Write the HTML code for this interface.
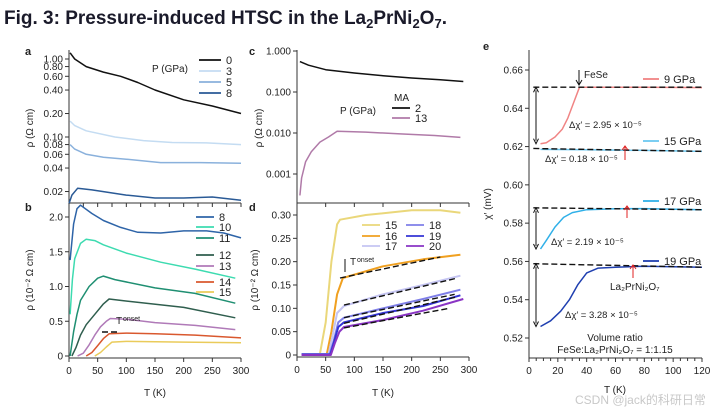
<!DOCTYPE html>
<html><head><meta charset="utf-8">
<style>
body{margin:0;background:#fff;width:728px;height:415px;overflow:hidden;font-family:"Liberation Sans",sans-serif}
svg text{font-family:"Liberation Sans",sans-serif;fill:#222}
</style></head><body>
<svg id="fig" width="728" height="415" viewBox="0 0 728 415" xmlns="http://www.w3.org/2000/svg">
<text x="4" y="24" style="font-size:19px;font-weight:bold;fill:#1a1a2a">Fig. 3: Pressure-induced HTSC in the La<tspan font-size="13" dy="4">2</tspan><tspan dy="-4">PrNi</tspan><tspan font-size="13" dy="4">2</tspan><tspan dy="-4">O</tspan><tspan font-size="13" dy="4">7</tspan><tspan dy="-4">.</tspan></text>
</svg>
<script>
// ---- Data ----
const aT0=[2,10,30,60,90,120,150,200,250,300], aV0=[1.2,1.0,0.8,0.68,0.6,0.5,0.4,0.3,0.25,0.2];
const aT3=[2,10,30,80,130,180,240,300], aV3=[0.16,0.14,0.12,0.1,0.09,0.085,0.084,0.08];
const aT5=[2,10,30,60,100,160,230,300], aV5=[0.08,0.07,0.06,0.055,0.052,0.047,0.047,0.046];
const aT8=[0,5,15,40,100,150,200,250,300], aV8=[0.014,0.018,0.022,0.021,0.018,0.0165,0.0165,0.017,0.0155];
const bT8=[2,8,14,20,40,60,90,120,160,200,240,270,300], bV8=[1.38,1.9,2.12,2.17,2.05,1.95,1.85,1.78,1.77,1.8,1.8,1.77,1.7];
const bT10=[2,6,10,20,30,45,60,100,160,220,290], bV10=[0.6,1.1,1.4,1.62,1.68,1.66,1.6,1.48,1.35,1.25,1.12];
const bT11=[2,8,14,20,35,50,60,80,150,220,290], bV11=[0,0.35,0.6,0.8,1.0,1.12,1.15,1.1,0.98,0.9,0.76];
const bT12=[5,12,20,30,45,60,70,90,200,290], bV12=[0,0.12,0.3,0.45,0.6,0.75,0.82,0.8,0.7,0.55];
const bT13=[15,25,35,45,55,65,72,100,150,220,290], bV13=[0,0.04,0.16,0.3,0.42,0.5,0.54,0.53,0.48,0.44,0.38];
const bT14=[30,40,50,60,70,100,150,220,300], bV14=[0,0.05,0.15,0.25,0.32,0.33,0.32,0.3,0.26];
const bT15=[45,55,65,75,100,200,300], bV15=[0,0.05,0.13,0.2,0.21,0.2,0.19];
const cT2=[5,20,50,100,150,200,250,290], cV2=[0.55,0.45,0.35,0.29,0.25,0.22,0.2,0.18];
const cT13=[5,8,15,25,40,55,70,120,180,240,285], cV13=[0.0003,0.0008,0.002,0.0035,0.006,0.008,0.011,0.0105,0.0095,0.0087,0.0078];
const dT15=[8,40,50,60,70,75,120,200,250,285], dV15=[0.002,0.002,0.07,0.2,0.28,0.29,0.3,0.31,0.31,0.305];
const dT16=[8,52,60,70,80,150,220,285], dV16=[0.002,0.002,0.05,0.13,0.165,0.19,0.205,0.215];
const dT17=[8,55,62,70,82,150,220,285], dV17=[0.002,0.002,0.04,0.09,0.105,0.13,0.15,0.17];
const dT18=[8,57,64,72,82,150,220,285], dV18=[0.002,0.002,0.03,0.07,0.08,0.1,0.12,0.14];
const dT19=[8,58,65,72,82,150,220,285], dV19=[0.001,0.001,0.03,0.06,0.07,0.09,0.105,0.128];
const dT20=[8,59,66,74,82,150,220,290], dV20=[0,0,0.025,0.05,0.06,0.075,0.095,0.12];
const eT9=[8,12,18,23,27,31,35,40,60,80,120], eV9=[0.6215,0.622,0.625,0.629,0.635,0.643,0.651,0.651,0.651,0.651,0.6508];
const eT15=[8,40,80,120], eV15=[0.6185,0.6183,0.618,0.6175];
const eT17=[8,12,18,24,30,40,60,80,120], eV17=[0.5665,0.571,0.578,0.583,0.5855,0.587,0.5875,0.5876,0.587];
const eT19=[8,15,22,28,34,40,48,60,80,120], eV19=[0.526,0.529,0.534,0.54,0.548,0.554,0.5565,0.557,0.5575,0.557];
const aTicks=[1,0.8,0.6,0.4,0.2,0.1,0.08,0.06,0.04,0.02], aTickLabels=["1.00","0.80","0.60","0.40","0.20","0.10","0.08","0.06","0.04","0.02"];
const bTicks=[0,0.5,1.0,1.5,2.0], bTickLabels=["0","0.5","1.0","1.5","2.0"];
const cTicks=[1,0.1,0.01,0.001], cTickLabels=["1.000","0.100","0.010","0.001"];
const dTicks=[0,0.05,0.1,0.15,0.2,0.25,0.3], dTickLabels=["0","0.05","0.10","0.15","0.20","0.25","0.30"];
const eTicks=[0.52,0.54,0.56,0.58,0.6,0.62,0.64,0.66], eTickLabels=["0.52","0.54","0.56","0.58","0.60","0.62","0.64","0.66"];
const tTicks=[0,50,100,150,200,250,300], eXTicks=[0,20,40,60,80,100,120];

const NS="http://www.w3.org/2000/svg", svg=document.getElementById('fig');
function mk(tag,attrs,parent){const e=document.createElementNS(NS,tag);for(const k in attrs)e.setAttribute(k,attrs[k]);(parent||svg).appendChild(e);return e;}
function txt(x,y,s,size,anchor,name){const t=mk('text',{x:x,y:y,'font-size':size||10,'text-anchor':anchor||'start'});t.textContent=s;

return t;}
// scales
const xT=(t)=>69+t*(241-69)/300, xT2=(t)=>297+t*(469-297)/300, xE=(t)=>529+t*(702-529)/120;
const yA=(v)=>137-78*Math.log10(v/0.1), yB=(v)=>356-69.5*v, yC=(v)=>51-41*Math.log10(v), yD=(v)=>355-v*(140/0.3), yE=(v)=>70+(0.66-v)*(268/0.14);
function line(xs,ys,fx,fy,color,name,w){const d=xs.map((t,i)=>(i?'L':'M')+fx(t).toFixed(1)+','+fy(ys[i]).toFixed(1)).join('');
const p=mk('path',{d:d,fill:'none',stroke:color,'stroke-width':w||1.5,'stroke-linejoin':'round'});

return p;}
function dash(x1,y1,x2,y2,name){const l=mk('line',{x1:x1,y1:y1,x2:x2,y2:y2,stroke:'#111','stroke-width':1.4,'stroke-dasharray':'6,3'});

}
function yaxis(x,y1,y2,ticks,labels,fy,name){const a=mk('line',{x1:x,y1:y1,x2:x,y2:y2,stroke:'#333','stroke-width':1});


ticks.forEach((v,i)=>{const y=fy(v);mk('line',{x1:x-4,y1:y,x2:x,y2:y,stroke:'#333'});txt(x-6,y+3.5,labels[i],10,'end','y-tick-label');});}
function xaxis(y,x1,x2,ticks,fx,labels,name){const a=mk('line',{x1:x1,y1:y,x2:x2,y2:y,stroke:'#333'});


ticks.forEach(t=>{const x=fx(t);mk('line',{x1:x,y1:y,x2:x,y2:y+4,stroke:'#333'});if(labels)txt(x,y+16,String(t),10,'middle','x-tick-label');});}
function legend(x,y,color,label,len){const l=mk('line',{x1:x,y1:y,x2:x+(len||22),y2:y,stroke:color,'stroke-width':1.8});


txt(x+(len||22)+5,y+4,label,11,'start','legend-label');}

// Panel a
txt(25,55,'a',11,'start','panel-a-label').setAttribute('font-weight','bold');
yaxis(69,50,203,aTicks,aTickLabels,yA,'panel-a-y-axis');
xaxis(203,69,241,[0,25,50,75,100,125,150,175,200,225,250,275,300],xT,false,'panel-a-x-axis');
line(aT0,aV0,xT,yA,'#111','series-a-0GPa');line(aT3,aV3,xT,yA,'#c4dcf2','series-a-3GPa');
line(aT5,aV5,xT,yA,'#8ab1dc','series-a-5GPa');line(aT8,aV8,xT,yA,'#2a5a96','series-a-8GPa');
const ya=txt(33,128,'ρ (Ω cm)',10,'middle','panel-a-y-title');ya.setAttribute('transform','rotate(-90 33 128)');
txt(152,72,'P (GPa)',10,'start','panel-a-legend-title').setAttribute('font-style','normal');
legend(199,60,'#111','0');legend(199,71,'#c4dcf2','3');legend(199,82,'#8ab1dc','5');legend(199,93,'#2a5a96','8');

// Panel b
txt(25,211,'b',11,'start','panel-b-label').setAttribute('font-weight','bold');
yaxis(69,203,358,bTicks,bTickLabels,yB,'panel-b-y-axis');
xaxis(358,69,241,tTicks,xT,true,'panel-b-x-axis');
const bc=['#2e64a8','#3ddbb0','#1f8f72','#2f5e4e','#b07ab8','#d9582e','#eacb5a'];
line(bT8,bV8,xT,yB,bc[0],'series-b-8GPa');line(bT10,bV10,xT,yB,bc[1],'series-b-10GPa');line(bT11,bV11,xT,yB,bc[2],'series-b-11GPa');
line(bT12,bV12,xT,yB,bc[3],'series-b-12GPa');line(bT13,bV13,xT,yB,bc[4],'series-b-13GPa');line(bT14,bV14,xT,yB,bc[5],'series-b-14GPa');line(bT15,bV15,xT,yB,bc[6],'series-b-15GPa');
const yb=txt(33,280,'ρ (10⁻² Ω cm)',10,'middle','panel-b-y-title');yb.setAttribute('transform','rotate(-90 33 280)');
txt(155,396,'T (K)',10,'middle','panel-b-x-title');
[['8',217],['10',227],['11',238],['12',255],['13',266],['14',282],['15',292]].forEach((e,i)=>legend(196,e[1],bc[i],e[0],18));
dash(102,332,120,332,'panel-b-tc-dash');txt(116,324,'T',10,'start','tc-label');txt(123,321,'onset',7,'start','tc-sup');

// Panel c
txt(249,55,'c',11,'start','panel-c-label').setAttribute('font-weight','bold');
yaxis(297,50,203,cTicks,cTickLabels,yC,'panel-c-y-axis');
xaxis(203,297,469,tTicks,xT2,false,'panel-c-x-axis');
line(cT2,cV2,xT2,yC,'#111','series-c-2GPa');line(cT13,cV13,xT2,yC,'#b07aa8','series-c-13GPa');
const yc=txt(262,128,'ρ (Ω cm)',10,'middle','panel-c-y-title');yc.setAttribute('transform','rotate(-90 262 128)');
txt(340,114,'P (GPa)',10,'start','panel-c-legend-title');txt(394,101,'MA',10,'start','panel-c-legend-header');
legend(392,108,'#111','2',18);legend(392,118,'#b07aa8','13',18);

// Panel d
txt(249,211,'d',11,'start','panel-d-label').setAttribute('font-weight','bold');
yaxis(297,203,357,dTicks,dTickLabels,yD,'panel-d-y-axis');
xaxis(357,297,469,tTicks,xT2,true,'panel-d-x-axis');
const dc=['#ead77a','#f0a020','#c4c4f2','#7f7fe8','#3434d4','#8a34c4'];
line(dT15,dV15,xT2,yD,dc[0],'series-d-15GPa',2);line(dT16,dV16,xT2,yD,dc[1],'series-d-16GPa',2);line(dT17,dV17,xT2,yD,dc[2],'series-d-17GPa',2);
line(dT18,dV18,xT2,yD,dc[3],'series-d-18GPa',2);line(dT19,dV19,xT2,yD,dc[4],'series-d-19GPa',2);line(dT20,dV20,xT2,yD,dc[5],'series-d-20GPa',2);
dash(xT2(75),yD(0.165),xT2(250),yD(0.21),'fit-16');dash(xT2(82),yD(0.107),xT2(280),yD(0.165),'fit-17');
dash(xT2(82),yD(0.08),xT2(275),yD(0.13),'fit-18');dash(xT2(82),yD(0.068),xT2(280),yD(0.125),'fit-19');dash(xT2(82),yD(0.058),xT2(265),yD(0.1),'fit-20');
const yd=txt(258,280,'ρ (10⁻² Ω cm)',10,'middle','panel-d-y-title');yd.setAttribute('transform','rotate(-90 258 280)');
txt(383,396,'T (K)',10,'middle','panel-d-x-title');
[['15',dc[0],362,225],['16',dc[1],362,236],['17',dc[2],362,246],['18',dc[3],406,225],['19',dc[4],406,236],['20',dc[5],406,246]].forEach(e=>legend(e[2],e[3],e[1],e[0],18));
txt(350,265,'T',10,'start','tc-label-d');txt(357,262,'onset',7,'start','tc-sup-d');
mk('line',{x1:345,y1:259,x2:345,y2:272,stroke:'#111'});

// Panel e
txt(483,50,'e',11,'start','panel-e-label').setAttribute('font-weight','bold');
yaxis(529,50,358,eTicks,eTickLabels,yE,'panel-e-y-axis');
xaxis(358,529,702,eXTicks,xE,true,'panel-e-x-axis');
[5,10,15,25,30,35,45,50,55,65,70,75,85,90,95,105,110,115].forEach(t=>mk('line',{x1:xE(t),y1:358,x2:xE(t),y2:361,stroke:'#333'}));
const ec=['#f08484','#6cc8f0','#30b0e8','#1f3fb0'];
line(eT9,eV9,xE,yE,ec[0],'series-e-9GPa');line(eT15,eV15,xE,yE,ec[1],'series-e-15GPa');line(eT17,eV17,xE,yE,ec[2],'series-e-17GPa');line(eT19,eV19,xE,yE,ec[3],'series-e-19GPa');
dash(xE(3),yE(0.651),xE(120),yE(0.651),'base-9');dash(xE(3),yE(0.619),xE(120),yE(0.6175),'base-15');
dash(xE(3),yE(0.588),xE(120),yE(0.587),'base-17');dash(xE(3),yE(0.5588),xE(120),yE(0.557),'base-19');
legend(643,79,ec[0],'9 GPa',16);legend(643,141,ec[1],'15 GPa',16);legend(643,201,ec[2],'17 GPa',16);legend(643,261,ec[3],'19 GPa',16);
[[0.651,0.6215],[0.588,0.5665],[0.5588,0.526]].forEach(p=>{const x=536;mk('line',{x1:x,y1:yE(p[0])+3,x2:x,y2:yE(p[1])-3,stroke:'#111'});
mk('path',{d:`M${x-2.5},${yE(p[0])+5}L${x},${yE(p[0])}L${x+2.5},${yE(p[0])+5}M${x-2.5},${yE(p[1])-5}L${x},${yE(p[1])}L${x+2.5},${yE(p[1])-5}`,fill:'none',stroke:'#111'});});
txt(569,128,'Δχ′ = 2.95 × 10⁻⁵',9.5,'start','dchi-9');txt(545,162,'Δχ′ = 0.18 × 10⁻⁵',9.5,'start','dchi-15');
txt(551,245,'Δχ′ = 2.19 × 10⁻⁵',9.5,'start','dchi-17');txt(565,318,'Δχ′ = 3.28 × 10⁻⁵',9.5,'start','dchi-19');
txt(584,78,'FeSe',10,'start','fese-label');mk('line',{x1:579,y1:70,x2:579,y2:84,stroke:'#111'});mk('path',{d:'M576,80L579,85L582,80',fill:'none',stroke:'#111'});
[[625,146,160],[627,206,218],[633,265,278]].forEach(a=>{mk('line',{x1:a[0],y1:a[1],x2:a[0],y2:a[2],stroke:'#e02020'});mk('path',{d:`M${a[0]-3},${a[1]+4}L${a[0]},${a[1]}L${a[0]+3},${a[1]+4}`,fill:'none',stroke:'#e02020'});});
txt(610,290,'La₂PrNi₂O₇',10,'start','la2prni2o7-label');
txt(615,341,'Volume ratio',10,'middle','volume-ratio-title');txt(615,353,'FeSe:La₂PrNi₂O₇ = 1:1.15',10,'middle','volume-ratio-value');
const ye=txt(491,204,'χ′ (mV)',10,'middle','panel-e-y-title');ye.setAttribute('transform','rotate(-90 491 204)');
txt(615,393,'T (K)',10,'middle','panel-e-x-title');
const wm=txt(575,404,'CSDN @jack的科研日常',12,'start','watermark');wm.setAttribute('style','fill:#c8c8c8;font-family:"Liberation Sans","Noto Sans CJK SC",sans-serif');
</script>
</body></html>
